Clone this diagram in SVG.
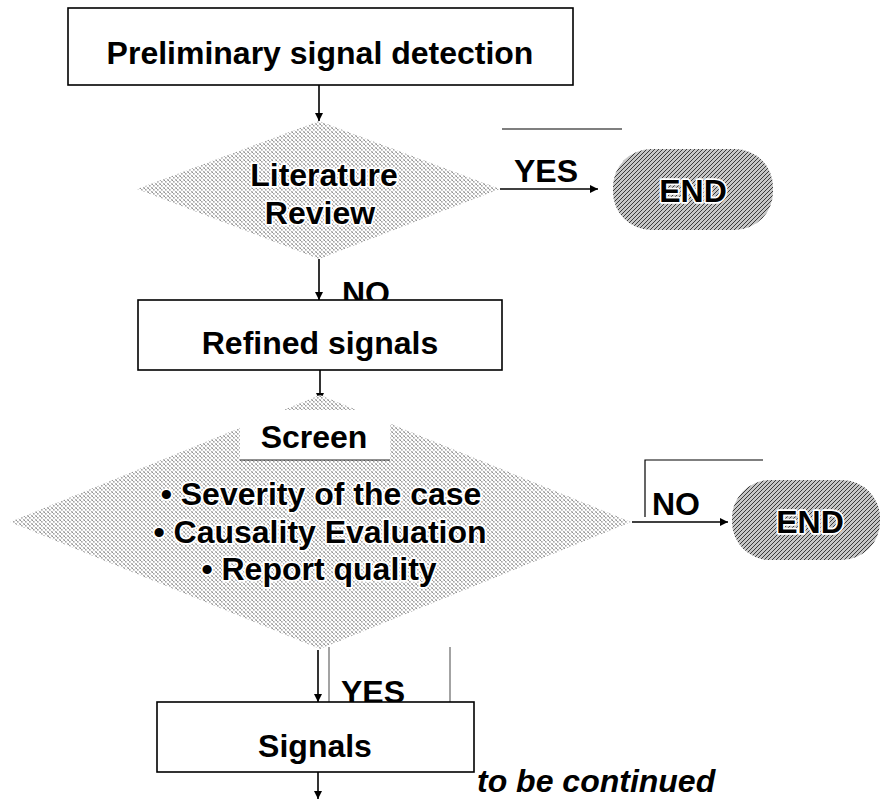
<svg xmlns="http://www.w3.org/2000/svg" width="883" height="800" viewBox="0 0 883 800">
  <defs>
    <style>
      .box { fill: #ffffff; stroke: #000000; stroke-width: 1.6; }
      .lbl { font-family: "Liberation Sans", Arial, sans-serif; font-weight: bold; font-size: 32px; fill: #000000; }
      .halo { paint-order: stroke; stroke: #ffffff; stroke-width: 3.5; stroke-linejoin: round; }
      .wire { stroke: #000000; stroke-width: 1.6; fill: none; }
      .stray { stroke: #000000; stroke-width: 1.2; fill: none; }
      .stray-grey { stroke: #666666; stroke-width: 1.2; fill: none; }
    </style>
    <!-- light dotted cross-hatch used by the decision diamonds -->
    <pattern id="dots" width="4" height="4" patternUnits="userSpaceOnUse">
      <rect width="4" height="4" fill="#ffffff"/>
      <path d="M0 0 L4 4" stroke="#555555" stroke-width="0.9" stroke-dasharray="1 1"/>
      <path d="M0 4 L4 0" stroke="#999999" stroke-width="0.5"/>
    </pattern>
    <!-- diagonal hatch used by the terminators -->
    <pattern id="hatch" width="4" height="4" patternUnits="userSpaceOnUse">
      <rect width="4" height="4" fill="#c6c6c6"/>
      <path d="M-1 1 L1 -1 M0 4 L4 0 M3 5 L5 3" stroke="#2a2a2a" stroke-width="0.9"/>
    </pattern>
    <marker id="arrow" viewBox="0 0 10 10" refX="10" refY="5" markerWidth="8" markerHeight="8" markerUnits="userSpaceOnUse" orient="auto">
      <path d="M0 0 L10 5 L0 10 Z" fill="#000000"/>
    </marker>
  </defs>

  <rect width="883" height="800" fill="#ffffff"/>

  <!-- connectors -->
  <g id="connectors">
    <line class="wire" x1="319" y1="85" x2="319" y2="121" marker-end="url(#arrow)"/>
    <line class="wire" x1="319" y1="259" x2="319" y2="300" marker-end="url(#arrow)"/>
    <line class="wire" x1="320" y1="370" x2="320" y2="401" marker-end="url(#arrow)"/>
    <line class="wire" x1="500" y1="189" x2="598" y2="189" marker-end="url(#arrow)"/>
    <line class="wire" x1="632" y1="522" x2="728" y2="522" marker-end="url(#arrow)"/>
    <line class="wire" x1="318" y1="650" x2="318" y2="702" marker-end="url(#arrow)"/>
    <line class="wire" x1="318" y1="772" x2="318" y2="799" marker-end="url(#arrow)"/>
  </g>

  <!-- loose rule lines -->
  <g id="rules">
    <line class="stray" x1="502" y1="129" x2="622" y2="129"/>
    <polyline class="stray" points="645,517 645,460 763,460"/>
    <line class="stray-grey" x1="329" y1="647" x2="329" y2="702"/>
    <line class="stray-grey" x1="450" y1="647" x2="450" y2="702"/>
  </g>

  <!-- edge labels -->
  <g id="edge-labels">
    <text class="lbl" x="546" y="182" text-anchor="middle">YES</text>
    <text class="lbl" x="366" y="304" text-anchor="middle">NO</text>
    <text class="lbl" x="676" y="515" text-anchor="middle">NO</text>
    <text class="lbl" x="373" y="703" text-anchor="middle">YES</text>
  </g>

  <g id="preliminary">
    <rect class="box" x="68" y="8" width="505" height="77"/>
    <text class="lbl" x="320" y="64" text-anchor="middle">Preliminary signal detection</text>
  </g>

  <g id="literature-review">
    <polygon points="319,121 500,189 319,259 137,189" fill="url(#dots)"/>
    <text class="lbl halo" x="324" y="186" text-anchor="middle">Literature</text>
    <text class="lbl halo" x="320" y="224" text-anchor="middle">Review</text>
  </g>

  <g id="end-1">
    <rect x="613" y="149" width="160" height="81" rx="38" ry="38" fill="url(#hatch)"/>
    <text class="lbl halo" x="693" y="202" text-anchor="middle">END</text>
  </g>

  <g id="refined-signals">
    <rect class="box" x="138" y="300" width="364" height="70"/>
    <text class="lbl" x="320" y="354" text-anchor="middle">Refined signals</text>
  </g>

  <g id="screen">
    <polygon points="320,395 631,522 320,649 10,522" fill="url(#dots)"/>
    <rect x="240" y="410" width="150" height="50" fill="#ffffff"/>
    <line x1="240" y1="460" x2="390" y2="460" stroke="#222222" stroke-width="1.2"/>
    <text class="lbl" x="314" y="448" text-anchor="middle">Screen</text>
    <text class="lbl halo" x="321" y="505" text-anchor="middle">• Severity of the case</text>
    <text class="lbl halo" x="320" y="543" text-anchor="middle">• Causality Evaluation</text>
    <text class="lbl halo" x="319" y="580" text-anchor="middle">• Report quality</text>
  </g>

  <g id="end-2">
    <rect x="732" y="480" width="148" height="80" rx="38" ry="38" fill="url(#hatch)"/>
    <text class="lbl halo" x="810" y="533" text-anchor="middle">END</text>
  </g>

  <g id="signals">
    <rect class="box" x="157" y="702" width="317" height="70"/>
    <text class="lbl" x="315" y="757" text-anchor="middle">Signals</text>
  </g>

  <text class="lbl" x="477" y="792" font-style="italic">to be continued</text>
</svg>
